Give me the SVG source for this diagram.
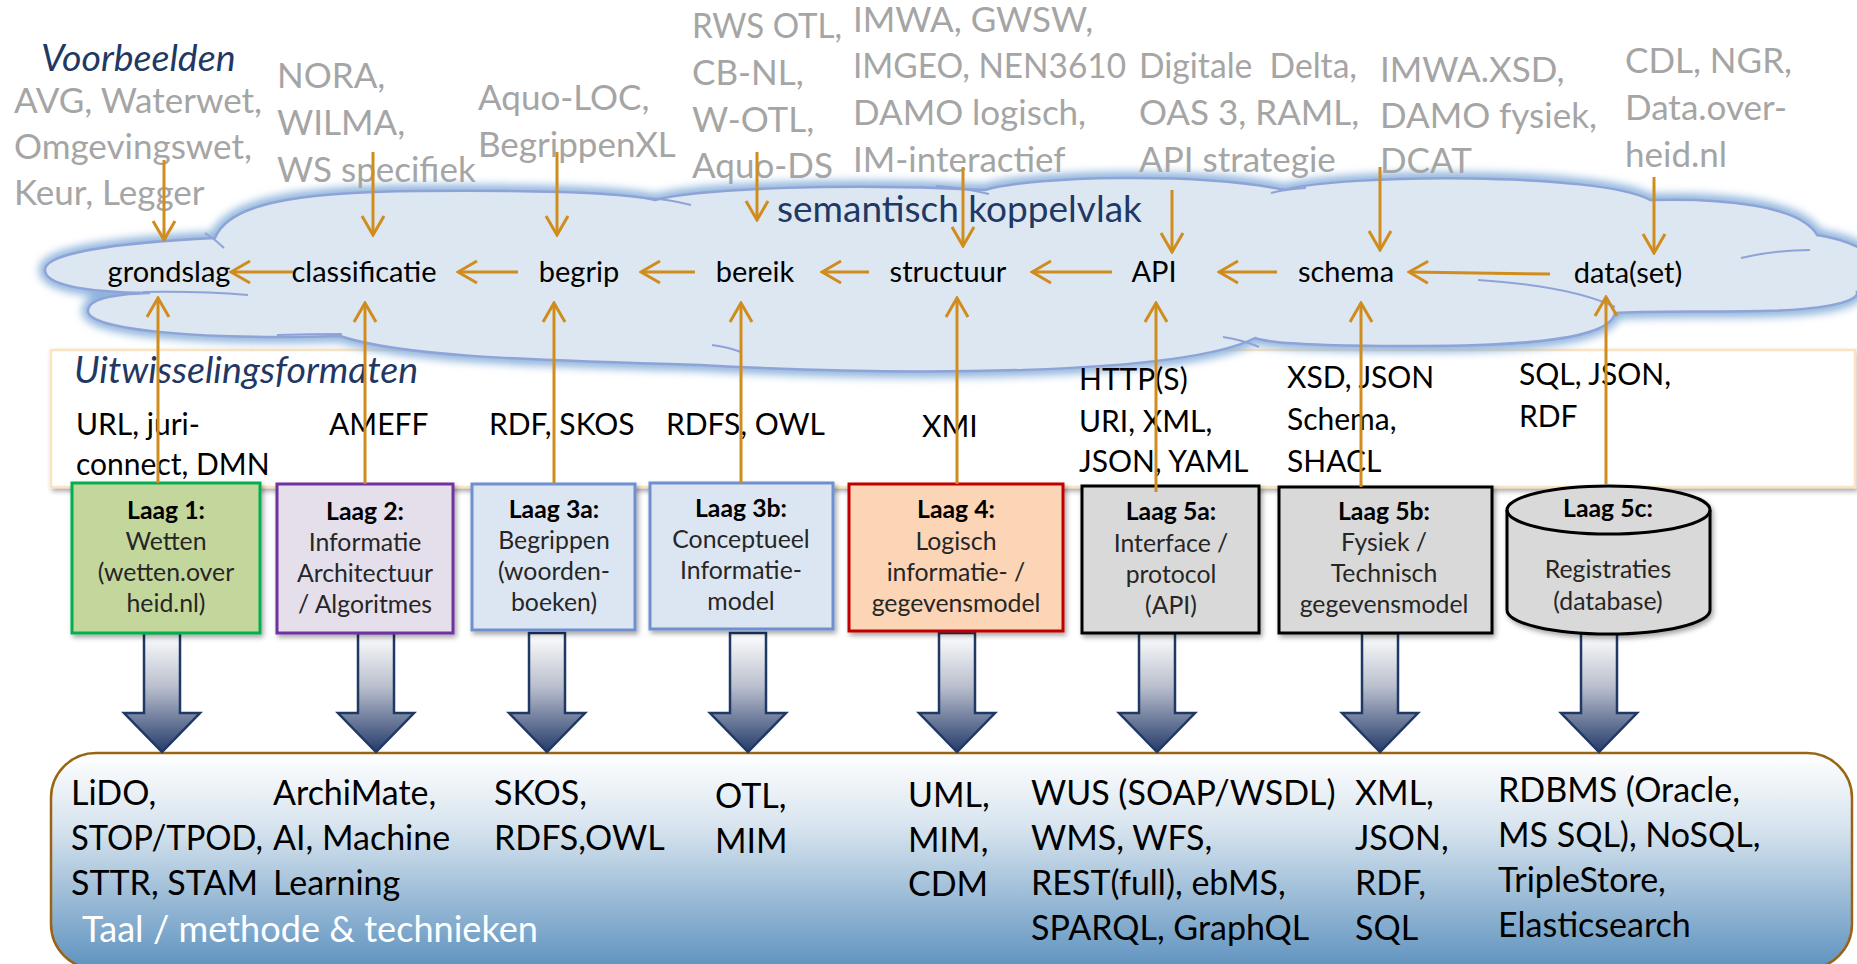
<svg xmlns="http://www.w3.org/2000/svg" width="1857" height="964" viewBox="0 0 1857 964">
<defs>
<style>
text{font-family:Lato,"Liberation Sans",sans-serif}
.ex{font-size:35px;fill:#A5A5A5}
.hd{font-size:37.5px;font-style:italic;fill:#1F3864}
.sk{font-size:37px;fill:#1F3864}
.cl{font-size:29px;fill:#000;text-anchor:middle}
.fm{font-size:30px;fill:#000}
.bx{font-size:24.8px;fill:#262626;text-anchor:middle}
.bb{font-weight:bold;fill:#000}
.bt{font-size:34px;fill:#000}
.tl{font-size:36px;fill:#fff}
.or{stroke:#D08C1C;stroke-width:3;fill:none;marker-end:url(#ah)}
.curl{stroke:#8EA3D8;stroke-width:2;fill:none}
</style>
<marker id="ah" markerUnits="userSpaceOnUse" viewBox="0 0 22 26" refX="20" refY="13" markerWidth="22" markerHeight="26" orient="auto">
<path d="M1,2 L20,13 L1,24" fill="none" stroke="#D08C1C" stroke-width="3"/>
</marker>
<linearGradient id="ag" x1="0" y1="0" x2="0" y2="1">
<stop offset="0" stop-color="#FFFFFF"/>
<stop offset="0.45" stop-color="#B9BFCD"/>
<stop offset="1" stop-color="#253B6B"/>
</linearGradient>
<linearGradient id="bg" x1="0" y1="0" x2="0" y2="1">
<stop offset="0" stop-color="#FFFFFF"/>
<stop offset="0.35" stop-color="#D6E3EE"/>
<stop offset="1" stop-color="#5E92BF"/>
</linearGradient>
<filter id="sh" x="-10%" y="-10%" width="130%" height="130%">
<feDropShadow dx="2" dy="3" stdDeviation="2.5" flood-color="#000" flood-opacity="0.35"/>
</filter>
<filter id="glow" x="-5%" y="-20%" width="110%" height="140%">
<feGaussianBlur stdDeviation="4"/>
</filter>
<path id="cloudshape" d="M45,270 C45,254 110,243 215,238 C228,205 290,192 420,191 C540,190 620,192 655,200 C700,188 850,183 985,190 C1030,176 1200,172 1285,190 C1340,174 1600,172 1650,200 C1720,198 1800,205 1817,235 C1850,240 1880,255 1880,268 C1880,282 1870,290 1857,292 C1860,300 1830,310 1760,311 C1700,312 1640,311 1615,313 C1610,340 1520,346 1420,346 C1330,346 1270,344 1255,338 C1180,376 900,376 700,365 C520,360 400,356 340,336 C200,340 88,330 88,311 C88,298 115,294 150,293 C80,292 45,284 45,270 Z"/>
<path id="blk" d="M-18,0 H18 V80 H38 L0,119 L-38,80 H-18 Z" fill="url(#ag)" stroke="#1F3864" stroke-width="2.5"/>
</defs>
<rect width="1857" height="964" fill="#fff"/>

<!-- format box -->
<g id="formats">
<rect x="51" y="350" width="1804" height="137" fill="#fff" stroke="#FBE3BF" stroke-width="2.5" filter="url(#sh)"/>
</g>

<!-- cloud -->
<g id="cloud">
<use href="#cloudshape" fill="none" stroke="#8DB3DC" stroke-width="12" filter="url(#glow)"/>
<use href="#cloudshape" fill="#DCE7F1" stroke="#8EA3D8" stroke-width="2.5"/>
<path class="curl" d="M205,233 Q216,240 224,248"/>
<path class="curl" d="M143,292 Q200,291 248,295"/>
<path class="curl" d="M277,335 Q310,334 342,334"/>
<path class="curl" d="M712,345 Q728,347 741,352"/>
<path class="curl" d="M1223,337 Q1243,340 1259,347"/>
<path class="curl" d="M936,186 Q965,188 989,194"/>
<path class="curl" d="M646,198 Q668,199 691,205"/>
<path class="curl" d="M1271,193 Q1285,189 1306,188"/>
<path class="curl" d="M1741,258 Q1775,250 1810,250"/>
<path class="curl" d="M1478,280 Q1570,286 1615,307"/>
<text class="sk" x="777" y="222">semantisch koppelvlak</text>
</g>

<!-- headings and examples -->
<g id="examples">
<text class="hd" x="41" y="71">Voorbeelden</text>
<text class="ex" x="14" y="113">AVG, Waterwet,</text>
<text class="ex" x="14" y="159">Omgevingswet,</text>
<text class="ex" x="14" y="205">Keur, Legger</text>
<text class="ex" x="277" y="88">NORA,</text>
<text class="ex" x="277" y="135">WILMA,</text>
<text class="ex" x="277" y="182">WS specifiek</text>
<text class="ex" x="478" y="110">Aquo-LOC,</text>
<text class="ex" x="478" y="157">BegrippenXL</text>
<text class="ex" x="692" y="38" textLength="150" lengthAdjust="spacingAndGlyphs">RWS OTL,</text>
<text class="ex" x="692" y="85">CB-NL,</text>
<text class="ex" x="692" y="132">W-OTL,</text>
<text class="ex" x="692" y="178">Aquo-DS</text>
<text class="ex" x="853" y="32">IMWA, GWSW,</text>
<text class="ex" x="853" y="78" textLength="273" lengthAdjust="spacingAndGlyphs">IMGEO, NEN3610</text>
<text class="ex" x="853" y="125">DAMO logisch,</text>
<text class="ex" x="853" y="172">IM-interactief</text>
<text class="ex" x="1139" y="78" style="white-space:pre" textLength="218" lengthAdjust="spacingAndGlyphs">Digitale  Delta,</text>
<text class="ex" x="1139" y="125">OAS 3, RAML,</text>
<text class="ex" x="1139" y="172">API strategie</text>
<text class="ex" x="1380" y="82">IMWA.XSD,</text>
<text class="ex" x="1380" y="128">DAMO fysiek,</text>
<text class="ex" x="1380" y="173">DCAT</text>
<text class="ex" x="1625" y="73">CDL, NGR,</text>
<text class="ex" x="1625" y="120">Data.over-</text>
<text class="ex" x="1625" y="167">heid.nl</text>
</g>

<!-- cloud labels -->
<g id="labels">
<text class="cl" x="169" y="282">grondslag</text>
<text class="cl" x="364" y="282">classificatie</text>
<text class="cl" x="579" y="282">begrip</text>
<text class="cl" x="755" y="282">bereik</text>
<text class="cl" x="948" y="282">structuur</text>
<text class="cl" x="1154" y="282">API</text>
<text class="cl" x="1346" y="282">schema</text>
<text class="cl" x="1628" y="283">data(set)</text>
</g>

<!-- format texts -->
<g id="formattexts">
<text class="hd" x="74" y="383">Uitwisselingsformaten</text>
<text class="fm" x="76" y="435">URL, juri-</text>
<text class="fm" x="76" y="475">connect, DMN</text>
<text class="fm" x="329" y="435">AMEFF</text>
<text class="fm" x="489" y="435">RDF, SKOS</text>
<text class="fm" x="666" y="435">RDFS, OWL</text>
<text class="fm" x="922" y="437">XMI</text>
<text class="fm" x="1079" y="390">HTTP(S)</text>
<text class="fm" x="1079" y="432">URI, XML,</text>
<text class="fm" x="1079" y="472">JSON, YAML</text>
<text class="fm" x="1287" y="388">XSD, JSON</text>
<text class="fm" x="1287" y="430">Schema,</text>
<text class="fm" x="1287" y="472">SHACL</text>
<text class="fm" x="1519" y="385">SQL, JSON,</text>
<text class="fm" x="1519" y="427">RDF</text>
</g>

<!-- bottom container -->
<g id="bottom">
<rect x="51" y="753" width="1801" height="216" rx="45" fill="url(#bg)" stroke="#996515" stroke-width="2.5"/>
<text class="bt" x="71" y="805">LiDO,</text>
<text class="bt" x="71" y="850" textLength="192" lengthAdjust="spacingAndGlyphs">STOP/TPOD,</text>
<text class="bt" x="71" y="895">STTR, STAM</text>
<text class="tl" x="82" y="942" textLength="456" lengthAdjust="spacingAndGlyphs">Taal / methode &amp; technieken</text>
<text class="bt" x="273" y="805">ArchiMate,</text>
<text class="bt" x="273" y="850">AI, Machine</text>
<text class="bt" x="273" y="895">Learning</text>
<text class="bt" x="494" y="805">SKOS,</text>
<text class="bt" x="494" y="850">RDFS,OWL</text>
<text class="bt" x="715" y="808">OTL,</text>
<text class="bt" x="715" y="853">MIM</text>
<text class="bt" x="908" y="807">UML,</text>
<text class="bt" x="908" y="852">MIM,</text>
<text class="bt" x="908" y="896">CDM</text>
<text class="bt" x="1031" y="805">WUS (SOAP/WSDL)</text>
<text class="bt" x="1031" y="850">WMS, WFS,</text>
<text class="bt" x="1031" y="895">REST(full), ebMS,</text>
<text class="bt" x="1031" y="940">SPARQL, GraphQL</text>
<text class="bt" x="1355" y="805">XML,</text>
<text class="bt" x="1355" y="850">JSON,</text>
<text class="bt" x="1355" y="895">RDF,</text>
<text class="bt" x="1355" y="940">SQL</text>
<text class="bt" x="1498" y="802">RDBMS (Oracle,</text>
<text class="bt" x="1498" y="847">MS SQL), NoSQL,</text>
<text class="bt" x="1498" y="892">TripleStore,</text>
<text class="bt" x="1498" y="937">Elasticsearch</text>
</g>

<!-- block arrows -->
<g id="blockarrows">
<use href="#blk" transform="translate(162,633)"/>
<use href="#blk" transform="translate(376,633)"/>
<use href="#blk" transform="translate(547,633)"/>
<use href="#blk" transform="translate(748,633)"/>
<use href="#blk" transform="translate(957,633)"/>
<use href="#blk" transform="translate(1157,633)"/>
<use href="#blk" transform="translate(1380,633)"/>
<use href="#blk" transform="translate(1599,633)"/>
</g>

<!-- layer boxes -->
<g id="laag1">
<rect x="72" y="483" width="188" height="150" fill="#C3D69B" stroke="#00B050" stroke-width="3" filter="url(#sh)"/>
<text class="bx bb" x="166" y="519">Laag 1:</text>
<text class="bx" x="166" y="550">Wetten</text>
<text class="bx" x="166" y="581">(wetten.over</text>
<text class="bx" x="166" y="612">heid.nl)</text>
</g>
<g id="laag2">
<rect x="277" y="484" width="176" height="149" fill="#E5DFEC" stroke="#7030A0" stroke-width="3" filter="url(#sh)"/>
<text class="bx bb" x="365" y="520">Laag 2:</text>
<text class="bx" x="365" y="551">Informatie</text>
<text class="bx" x="365" y="582">Architectuur</text>
<text class="bx" x="365" y="613">/ Algoritmes</text>
</g>
<g id="laag3a">
<rect x="472" y="484" width="163" height="146" fill="#DCE6F2" stroke="#6E8FD0" stroke-width="3" filter="url(#sh)"/>
<text class="bx bb" x="554" y="518">Laag 3a:</text>
<text class="bx" x="554" y="549">Begrippen</text>
<text class="bx" x="554" y="580">(woorden-</text>
<text class="bx" x="554" y="611">boeken)</text>
</g>
<g id="laag3b">
<rect x="650" y="483" width="183" height="146" fill="#DCE6F2" stroke="#6E8FD0" stroke-width="3" filter="url(#sh)"/>
<text class="bx bb" x="741" y="517">Laag 3b:</text>
<text class="bx" x="741" y="548">Conceptueel</text>
<text class="bx" x="741" y="579">Informatie-</text>
<text class="bx" x="741" y="610">model</text>
</g>
<g id="laag4">
<rect x="849" y="484" width="214" height="147" fill="#FBD5B5" stroke="#C00000" stroke-width="3" filter="url(#sh)"/>
<text class="bx bb" x="956" y="518">Laag 4:</text>
<text class="bx" x="956" y="550">Logisch</text>
<text class="bx" x="956" y="581">informatie- /</text>
<text class="bx" x="956" y="612">gegevensmodel</text>
</g>
<g id="laag5a">
<rect x="1082" y="486" width="177" height="147" fill="#D9D9D9" stroke="#000" stroke-width="3" filter="url(#sh)"/>
<text class="bx bb" x="1171" y="520">Laag 5a:</text>
<text class="bx" x="1171" y="552">Interface /</text>
<text class="bx" x="1171" y="583">protocol</text>
<text class="bx" x="1171" y="614">(API)</text>
</g>
<g id="laag5b">
<rect x="1279" y="487" width="213" height="146" fill="#D9D9D9" stroke="#000" stroke-width="3" filter="url(#sh)"/>
<text class="bx bb" x="1384" y="520">Laag 5b:</text>
<text class="bx" x="1384" y="551">Fysiek /</text>
<text class="bx" x="1384" y="582">Technisch</text>
<text class="bx" x="1384" y="613">gegevensmodel</text>
</g>
<g id="laag5c">
<path d="M1507,510 V610 A101.5,24 0 0 0 1710,610 V510 A101.5,24 0 0 0 1507,510 Z" fill="#D9D9D9" stroke="#000" stroke-width="3" filter="url(#sh)"/>
<path d="M1507,510 A101.5,24 0 0 0 1710,510" fill="none" stroke="#000" stroke-width="3"/>
<text class="bx bb" x="1608" y="517">Laag 5c:</text>
<text class="bx" x="1608" y="578">Registraties</text>
<text class="bx" x="1608" y="610">(database)</text>
</g>

<!-- connectors -->
<g id="connectors">
<line class="or" x1="293" y1="272" x2="231" y2="272"/>
<line class="or" x1="518" y1="272" x2="458" y2="272"/>
<line class="or" x1="695" y1="272" x2="641" y2="272"/>
<line class="or" x1="869" y1="272" x2="822" y2="272"/>
<line class="or" x1="1112" y1="272" x2="1032" y2="272"/>
<line class="or" x1="1277" y1="272" x2="1219" y2="272"/>
<line class="or" x1="1550" y1="274" x2="1409" y2="272"/>
<line class="or" x1="164" y1="160" x2="164" y2="240"/>
<line class="or" x1="373" y1="152" x2="373" y2="235"/>
<line class="or" x1="557" y1="152" x2="557" y2="235"/>
<line class="or" x1="757" y1="152" x2="757" y2="220"/>
<line class="or" x1="963" y1="167" x2="963" y2="246"/>
<line class="or" x1="1172" y1="190" x2="1172" y2="252"/>
<line class="or" x1="1380" y1="167" x2="1380" y2="250"/>
<line class="or" x1="1654" y1="177" x2="1654" y2="253"/>
<line class="or" x1="158" y1="483" x2="158" y2="298"/>
<line class="or" x1="365" y1="484" x2="365" y2="303"/>
<line class="or" x1="554" y1="484" x2="554" y2="303"/>
<line class="or" x1="741" y1="483" x2="741" y2="303"/>
<line class="or" x1="957" y1="484" x2="957" y2="298"/>
<line class="or" x1="1156" y1="492" x2="1156" y2="303"/>
<line class="or" x1="1361" y1="487" x2="1361" y2="303"/>
<line class="or" x1="1606" y1="484" x2="1606" y2="297"/>
</g>
</svg>
